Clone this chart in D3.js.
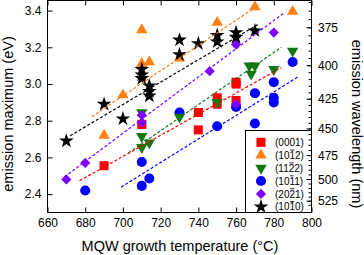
<!DOCTYPE html>
<html>
<head>
<meta charset="utf-8">
<script src="https://cdn.jsdelivr.net/npm/d3@7"></script>
<style>
body { margin: 0; background: #fff; }
svg { display: block; font-family: 'Liberation Sans', Arial, sans-serif; }
</style>
</head>
<body>
<script>
// Data: [temperature °C, emission maximum eV]
const pts0001 = [[690, 2.555], [710, 2.78], [740, 2.845], [740, 2.75], [750, 2.925], [750, 2.89], [760, 3.01], [760, 3.0], [760, 2.91]]
const pts1012 = [[690, 2.72], [700, 2.94], [710, 3.295], [710, 3.11], [714, 3.12], [730, 3.14], [750, 3.335], [770, 3.42], [790, 3.395]]
const pts1122 = [[710, 2.845], [710, 2.715], [714, 2.68], [710, 2.655], [730, 2.82], [750, 2.9], [767, 3.1], [770, 3.1], [768, 3.055], [780, 3.08], [790, 3.18]]
const pts1011 = [[680, 2.42], [710, 2.575], [710, 2.445], [714, 2.485], [730, 2.845], [750, 2.77], [760, 2.875], [770, 2.95], [770, 2.785], [780, 3.01], [780, 2.925], [780, 2.9], [790, 3.12]]
const pts2021 = [[670, 2.48], [680, 2.57], [710, 2.83], [710, 2.79], [746, 3.07], [760, 2.89], [760, 3.215], [780, 3.28]]
const pts1010 = [[670, 2.69], [690, 2.89], [700, 2.81], [710, 3.08], [710, 3.05], [710, 3.03], [714, 2.99], [714, 2.96], [714, 2.935], [730, 3.24], [730, 3.16], [740, 3.22], [750, 3.265], [750, 3.23], [760, 3.28], [760, 3.255], [770, 3.29]]

// dashed fit lines, start and end
const fit0001 = [[677, 2.473], [784, 3.089]]
const fit1012 = [[683.5, 2.822], [772, 3.43]]
const fit1122 = [[703, 2.625], [784, 3.2]]
const fit1011 = [[699, 2.438], [793, 3.04]]
const fit2021 = [[669, 2.494], [785, 3.384]]
const fit1010 = [[672, 2.718], [772, 3.327]]

// '~' marks a barred digit
const labels = ['(0001)', '(10~12)', '(11~22)', '(10~11)', '(20~21)', '(10~10)']
const xTicks = [660, 680, 700, 720, 740, 760, 780, 800]
const yTicks = [2.4, 2.6, 2.8, 3.0, 3.2, 3.4]
const nmTicks = [375, 400, 425, 450, 475, 500, 525]

const W = 364, H = 255
const svg = d3.select('body').append('svg')
    .attr('width', W)
    .attr('height', H)

const x = d3.scaleLinear().domain([660, 800]).range([47.5, 311.5])
const y = d3.scaleLinear().domain([2.3, 3.455]).range([212.5, 0.5])
const nmToY = nm => y(1239.84 / nm)

const tri = d3.symbol().type(d3.symbolTriangle).size(56)
const series = [
    { pts: pts0001, fit: fit0001, color: '#ff0000', sym: d3.symbol().type(d3.symbolSquare).size(82), rot: 0 },
    { pts: pts1012, fit: fit1012, color: '#ff7f0e', sym: tri, rot: 0 },
    { pts: pts1122, fit: fit1122, color: '#127812', sym: tri, rot: 180 },
    { pts: pts1011, fit: fit1011, color: '#0000ff', sym: d3.symbol().type(d3.symbolCircle).size(80), rot: 0 },
    { pts: pts2021, fit: fit2021, color: '#8000ff', sym: d3.symbol().type(d3.symbolSquare).size(52), rot: 45 },
    { pts: pts1010, fit: fit1010, color: '#000000', sym: d3.symbol().type(d3.symbolStar).size(68), rot: 0 },
]
const drawOrder = [0, 1, 3, 2, 4, 5]

// markers
drawOrder.forEach(i => {
    const s = series[i]
    svg.append('g').selectAll('path')
        .data(s.pts)
        .join('path')
        .attr('d', s.sym)
        .attr('transform', d => `translate(${x(d[0])},${y(d[1])}) rotate(${s.rot})`)
        .style('fill', s.color)
})

// fit lines
const line = d3.line().x(d => x(d[0])).y(d => y(d[1]))
series.forEach(s => {
    svg.append('path')
        .datum(s.fit)
        .attr('d', line)
        .style('fill', 'none')
        .style('stroke', s.color)
        .style('stroke-width', 1.2)
        .style('stroke-dasharray', '3,2')
})

// bottom / top axes, ticks pointing in
const xMinor = d3.range(660, 801, 10)
const gBottom = svg.append('g').attr('transform', 'translate(0,212.5)')
gBottom.call(d3.axisBottom(x).tickValues(xMinor).tickSize(-3).tickFormat(''))
gBottom.call(d3.axisBottom(x).tickValues(xTicks).tickSize(-5).tickPadding(6).tickFormat(d3.format('d')))
const gTop = svg.append('g').attr('transform', 'translate(0,0.5)')
gTop.call(d3.axisTop(x).tickValues(xMinor).tickSize(-3).tickFormat(''))
gTop.call(d3.axisTop(x).tickValues(xTicks).tickSize(-5).tickFormat(''))

// left axis
const gLeft = svg.append('g').attr('transform', 'translate(47.5,0)')
gLeft.call(d3.axisLeft(y).tickValues(d3.range(2.3, 3.46, 0.1)).tickSize(-3).tickFormat(''))
gLeft.call(d3.axisLeft(y).tickValues(yTicks).tickSize(-5).tickPadding(6).tickFormat(d3.format('.1f')))

svg.selectAll('.domain').remove()
svg.selectAll('.tick text').style('font-size', '12px').style('font-family', "'Liberation Sans', Arial, sans-serif").attr('fill', '#000')

// legend
const lg = svg.append('g')
lg.append('rect')
    .attr('x', 245.5).attr('y', 130.5)
    .attr('width', 66).attr('height', 82)
    .style('fill', '#fff').style('stroke', '#000')
labels.forEach((lab, i) => {
    const s = series[i]
    const ly = 142.3 + i * 12.9
    lg.append('path')
        .attr('d', s.sym)
        .attr('transform', `translate(261,${ly}) rotate(${s.rot})`)
        .style('fill', s.color)
    const bar = lab.indexOf('~')
    const txt = lg.append('text')
        .attr('x', 275).attr('y', ly + 3.6)
        .style('font-size', '10px')
        .text(lab.replace('~', ''))
    if (bar >= 0) {
        const node = txt.node()
        const a = node.getStartPositionOfChar(bar)
        const b = node.getEndPositionOfChar(bar)
        lg.append('line')
            .attr('x1', a.x + 0.6).attr('x2', b.x - 0.6)
            .attr('y1', ly - 5.2).attr('y2', ly - 5.2)
            .style('stroke', '#000').style('stroke-width', 0.8)
    }
})

// right axis: wavelength, nonlinear in energy
const gRight = svg.append('g')
const nmMinor = d3.range(360, 531, 5).filter(n => nmToY(n) >= 0.5 && nmToY(n) <= 212.5)
gRight.selectAll('line.minor')
    .data(nmMinor)
    .join('line')
    .attr('class', 'minor')
    .attr('x1', 311.5).attr('x2', 308.5)
    .attr('y1', d => nmToY(d)).attr('y2', d => nmToY(d))
    .style('stroke', '#000')
gRight.selectAll('line.major')
    .data(nmTicks)
    .join('line')
    .attr('class', 'major')
    .attr('x1', 311.5).attr('x2', 306.5)
    .attr('y1', d => nmToY(d)).attr('y2', d => nmToY(d))
    .style('stroke', '#000')
gRight.selectAll('text')
    .data(nmTicks)
    .join('text')
    .attr('x', 318).attr('y', d => nmToY(d) + 4.2)
    .style('font-size', '12px')
    .text(d => d)

// frame
svg.append('rect')
    .attr('x', 47.5).attr('y', 0.5)
    .attr('width', 264).attr('height', 212)
    .style('fill', 'none').style('stroke', '#000')

// titles
svg.append('text')
    .attr('x', 180).attr('y', 251)
    .attr('text-anchor', 'middle')
    .style('font-size', '14.5px')
    .text('MQW growth temperature (°C)')
svg.append('text')
    .attr('transform', 'translate(13,114) rotate(-90)')
    .attr('text-anchor', 'middle')
    .style('font-size', '14.5px')
    .text('emission maximum (eV)')
svg.append('text')
    .attr('transform', 'translate(352,124) rotate(90)')
    .attr('text-anchor', 'middle')
    .style('font-size', '14.5px')
    .text('emission wavelength (nm)')
</script>
</body>
</html>
